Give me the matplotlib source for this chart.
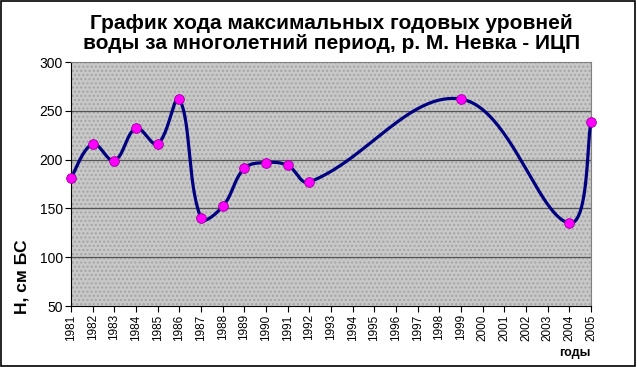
import numpy as np
import matplotlib.pyplot as plt
from matplotlib.patches import Rectangle

plt.rcParams['font.family'] = ['Liberation Sans', 'DejaVu Sans']

years = [1981, 1982, 1983, 1984, 1985, 1986, 1987, 1988, 1989, 1990, 1991, 1992, 1999, 2004, 2005]
levels = [181, 216, 199, 232, 216, 262, 140, 152, 191, 197, 194, 177, 262, 135, 239]
tick_years = list(range(1981, 2006))

# pixels per unit on screen (plot area 520 x 244 px)
XS = 520 / 24.0
YS = 244 / 250.0


def excel_smooth(x, y, n=50):
    # bezier smoothing done in screen space, tangents scaled by segment length
    pts = np.column_stack([np.asarray(x) * XS, np.asarray(y) * YS]).astype(float)
    out = []
    for i in range(len(pts) - 1):
        p0 = pts[i - 1] if i > 0 else pts[i]
        p1 = pts[i]
        p2 = pts[i + 1]
        p3 = pts[i + 2] if i + 2 < len(pts) else pts[i + 1]
        d01 = np.linalg.norm(p1 - p0)
        d12 = np.linalg.norm(p2 - p1)
        d23 = np.linalg.norm(p3 - p2)
        k1 = d12 / (d01 + d12) if d01 > 0 else 0.5
        k2 = d12 / (d12 + d23) if d23 > 0 else 0.5
        c1 = p1 + (p2 - p0) * k1 / 3.0 * 1.15
        c2 = p2 - (p3 - p1) * k2 / 3.0 * 1.15
        t = np.linspace(0, 1, n)[:, None]
        seg = ((1 - t) ** 3) * p1 + 3 * ((1 - t) ** 2) * t * c1 + 3 * (1 - t) * t ** 2 * c2 + t ** 3 * p2
        out.append(seg if i == 0 else seg[1:])
    s = np.vstack(out)
    return s[:, 0] / XS, s[:, 1] / YS


fig = plt.figure(figsize=(6.37, 3.67), dpi=100)
fig.patches.append(Rectangle((0.002, 0.003), 0.995, 0.993, transform=fig.transFigure,
                             fill=False, edgecolor='black', linewidth=1.2))

ax = fig.add_axes([71 / 637, 1 - 306 / 367, 520 / 637, 244 / 367])
ax.set_facecolor('#c8c8c8')
ax.add_patch(Rectangle((0, 0), 1, 1, transform=ax.transAxes, facecolor='none',
                       edgecolor='#a4a4a4', hatch='....', linewidth=0, zorder=0))

for v in [100, 150, 200, 250]:
    ax.axhline(v, color='#555555', linewidth=0.9, zorder=1)

sx, sy = excel_smooth(years, levels)
ax.plot(sx, sy, color='#000080', linewidth=2.3, zorder=3, clip_on=False)
ax.plot(years, levels, 'o', color='#ff00ff', markersize=7, markeredgecolor='#990099',
        markeredgewidth=0.6, zorder=4, clip_on=False)

ax.set_xlim(1981, 2005)
ax.set_ylim(50, 300)
ax.set_yticks([50, 100, 150, 200, 250, 300])
ax.set_xticks(tick_years)
ax.set_xticklabels([str(y) for y in tick_years], rotation=90, fontsize=8.5)
ax.tick_params(axis='y', labelsize=10, length=4, pad=2)
ax.tick_params(axis='x', length=4, pad=2)

for side in ['top', 'right']:
    ax.spines[side].set_color('#808080')
for side in ['left', 'bottom']:
    ax.spines[side].set_color('black')

fig.text(0.52, 0.962, 'График хода максимальных годовых уровней\nводы за многолетний период, р. М. Невка - ИЦП',
         ha='center', va='top', fontsize=15, fontweight='bold', linespacing=1.05)
fig.text(22 / 637, 1 - 277 / 367, 'Н, см БС', rotation=90, ha='center', va='center',
         fontsize=12.5, fontweight='bold')
fig.text(575 / 637, 1 - 353 / 367, 'годы', ha='center', va='center', fontsize=9, fontweight='bold')

fig.savefig('out.png', dpi=100)
